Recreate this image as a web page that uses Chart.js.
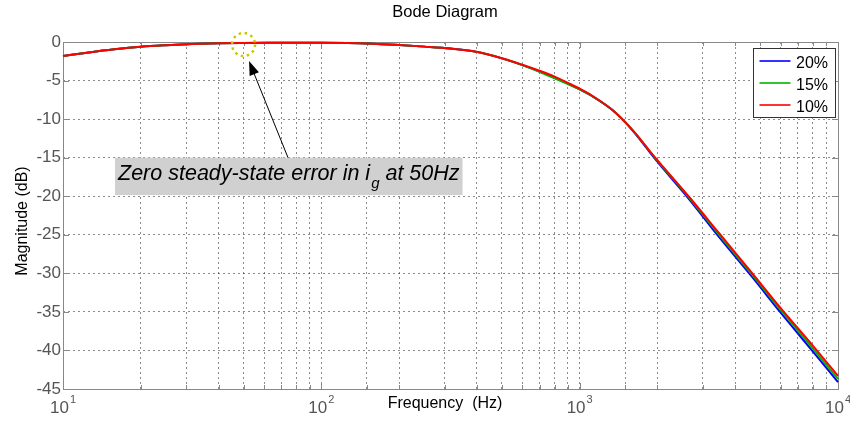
<!DOCTYPE html>
<html>
<head>
<meta charset="utf-8">
<title>Bode Diagram</title>
<script src="https://cdn.jsdelivr.net/npm/chart.js@4/dist/chart.umd.min.js"></script>
<style>
  html, body { margin: 0; padding: 0; background: #fff; }
  #wrap { width: 850px; height: 421px; }
</style>
</head>
<body>
<div id="wrap"><canvas id="chart"></canvas></div>
<script>
// Frequency points (Hz)
const freqs = [10, 12.6, 15.8, 20, 25, 31.6, 40, 50, 63, 80, 100, 126, 158, 200, 251, 316, 398, 500,
  600, 708, 800, 900, 1000, 1122, 1336, 1600, 1972, 2654, 3467, 4660, 6000, 8000, 10000];

// Magnitude (dB) for each case
const mag20 = [-1.82, -1.35, -0.95, -0.62, -0.42, -0.26, -0.16, -0.12, -0.1, -0.1, -0.1, -0.12, -0.22, -0.4, -0.6, -0.85, -1.28, -2.12,
  -3.0, -3.9, -4.65, -5.4, -6.15, -7.05, -8.8, -11.45, -15.3, -20.4, -25.3, -30.5, -35.1, -40.15, -44.1];
const mag15 = [-1.82, -1.35, -0.95, -0.62, -0.42, -0.26, -0.16, -0.12, -0.1, -0.1, -0.1, -0.12, -0.22, -0.4, -0.6, -0.85, -1.27, -2.12,
  -3.0, -3.95, -4.7, -5.45, -6.15, -7.05, -8.8, -11.4, -15.15, -20.2, -25.0, -30.2, -34.75, -39.75, -43.7];
const mag10 = [-1.82, -1.35, -0.95, -0.62, -0.42, -0.26, -0.16, -0.12, -0.1, -0.1, -0.1, -0.12, -0.22, -0.4, -0.6, -0.85, -1.26, -2.1,
  -2.95, -3.8, -4.5, -5.3, -6.05, -7.0, -8.8, -11.4, -15.1, -20.1, -24.8, -30.0, -34.5, -39.4, -43.3];

const seriesNames = ['20%', '15%', '10%'];
const seriesColors = ['#0000ff', '#00b400', '#ff0000'];
const seriesValues = [mag20, mag15, mag10];

const yTickValues = [0, -5, -10, -15, -20, -25, -30, -35, -40, -45];
const xDecades = [1, 2, 3, 4];

const FONT = '"Liberation Sans", Arial, sans-serif';
const TICK_GREY = '#555555';

// Bode plot decorations: box, titles, decade labels, legend, annotation
const bodePlugin = {
  id: 'bodeDecor',
  beforeDatasetsDraw(chart) {
    const { ctx, chartArea: a, scales: { x, y } } = chart;
    ctx.save();

    // annotation box (covers the grid)
    const bx0 = x.getPixelForValue(15.9), bx1 = x.getPixelForValue(352);
    const by0 = y.getPixelForValue(-15.0), by1 = y.getPixelForValue(-19.85);
    ctx.fillStyle = '#d0d0d0';
    ctx.fillRect(bx0, by0, bx1 - bx0, by1 - by0);

    // axes box
    ctx.strokeStyle = '#888';
    ctx.lineWidth = 1;
    ctx.strokeRect(Math.round(a.left) + 0.5, Math.round(a.top) + 0.5,
      Math.round(a.right - a.left), Math.round(a.bottom - a.top));

    // inward tick marks
    ctx.beginPath();
    yTickValues.forEach(v => {
      const py = Math.round(y.getPixelForValue(v)) + 0.5;
      ctx.moveTo(a.left, py); ctx.lineTo(a.left + 6, py);
      ctx.moveTo(a.right, py); ctx.lineTo(a.right - 6, py);
    });
    x.ticks.forEach(t => {
      const px = Math.round(x.getPixelForValue(t.value)) + 0.5;
      const major = Math.abs(Math.log10(t.value) % 1) < 1e-9;
      const len = major ? 6 : 4;
      ctx.moveTo(px, a.bottom); ctx.lineTo(px, a.bottom - len);
      ctx.moveTo(px, a.top); ctx.lineTo(px, a.top + len);
    });
    ctx.stroke();
    ctx.restore();
  },
  afterDraw(chart) {
    const { ctx, chartArea: a, scales: { x, y } } = chart;
    ctx.save();

    // annotation text with subscript
    const bx0 = x.getPixelForValue(15.9);
    ctx.fillStyle = '#000';
    ctx.textAlign = 'left';
    ctx.textBaseline = 'alphabetic';
    let tx = bx0 + 3;
    const base = 180;
    ctx.font = 'italic 21.5px ' + FONT;
    const t1 = 'Zero steady-state error in i';
    ctx.fillText(t1, tx, base);
    tx += ctx.measureText(t1).width + 1;
    ctx.font = 'italic 15px ' + FONT;
    ctx.fillText('g', tx, base + 8);
    tx += ctx.measureText('g').width;
    ctx.font = 'italic 21.5px ' + FONT;
    ctx.fillText(' at 50Hz', tx, base);

    // arrow
    const ax0 = x.getPixelForValue(74.3), ay0 = y.getPixelForValue(-15.0);
    const ax1 = x.getPixelForValue(52.5), ay1 = y.getPixelForValue(-2.47);
    const ang = Math.atan2(ay1 - ay0, ax1 - ax0);
    ctx.strokeStyle = '#000';
    ctx.lineWidth = 1;
    ctx.beginPath();
    ctx.moveTo(ax0, ay0);
    ctx.lineTo(ax1 - 10 * Math.cos(ang), ay1 - 10 * Math.sin(ang));
    ctx.stroke();
    ctx.beginPath();
    ctx.moveTo(ax1, ay1);
    ctx.lineTo(ax1 - 14 * Math.cos(ang) + 5 * Math.sin(ang), ay1 - 14 * Math.sin(ang) - 5 * Math.cos(ang));
    ctx.lineTo(ax1 - 14 * Math.cos(ang) - 5 * Math.sin(ang), ay1 - 14 * Math.sin(ang) + 5 * Math.cos(ang));
    ctx.closePath();
    ctx.fillStyle = '#000';
    ctx.fill();

    // dotted circle at 50 Hz
    ctx.strokeStyle = '#c8c800';
    ctx.lineWidth = 2.5;
    ctx.setLineDash([2.5, 3.6]);
    ctx.beginPath();
    ctx.arc(x.getPixelForValue(50), y.getPixelForValue(0) + 2.5, 11.5, 0, Math.PI * 2);
    ctx.stroke();
    ctx.setLineDash([]);

    // decade tick labels 10^n
    ctx.fillStyle = TICK_GREY;
    xDecades.forEach(n => {
      const px = x.getPixelForValue(Math.pow(10, n));
      ctx.font = '17px ' + FONT;
      const w1 = ctx.measureText('10').width;
      ctx.font = '11px ' + FONT;
      const w2 = ctx.measureText(String(n)).width;
      const left = px - (w1 + w2 + 1) / 2;
      ctx.font = '17px ' + FONT;
      ctx.fillText('10', left, 413);
      ctx.font = '11px ' + FONT;
      ctx.fillText(String(n), left + w1 + 1, 403);
    });

    // titles
    ctx.fillStyle = '#000';
    ctx.textAlign = 'center';
    ctx.font = '16.5px ' + FONT;
    ctx.fillText('Bode Diagram', 445, 17);
    ctx.font = '16px ' + FONT;
    ctx.fillText('Frequency  (Hz)', 445, 408);
    ctx.save();
    ctx.translate(27, 221);
    ctx.rotate(-Math.PI / 2);
    ctx.fillText('Magnitude (dB)', 0, 0);
    ctx.restore();

    // legend
    const lx1 = a.right - 2.5, lx0 = lx1 - 82, ly0 = a.top + 6.5, ly1 = ly0 + 69;
    ctx.fillStyle = '#fff';
    ctx.fillRect(lx0, ly0, lx1 - lx0, ly1 - ly0);
    ctx.strokeStyle = '#333';
    ctx.lineWidth = 1;
    ctx.strokeRect(lx0, ly0, lx1 - lx0, ly1 - ly0);
    ctx.textAlign = 'left';
    ctx.font = '16px ' + FONT;
    seriesNames.forEach((name, i) => {
      const ly = Math.round(ly0 + 12 + i * 22.2);
      ctx.strokeStyle = seriesColors[i];
      ctx.lineWidth = 1.6;
      ctx.beginPath();
      ctx.moveTo(lx0 + 6, ly);
      ctx.lineTo(lx0 + 37, ly);
      ctx.stroke();
      ctx.fillStyle = '#000';
      ctx.fillText(name, lx0 + 42.5, ly + 7);
    });

    ctx.restore();
  }
};

// 10% drawn on top, 20% underneath
const datasets = seriesNames.map((name, i) => ({
  label: name,
  data: freqs.map((f, k) => ({ x: f, y: seriesValues[i][k] })),
  borderColor: seriesColors[i],
  backgroundColor: seriesColors[i],
  borderWidth: 2,
  pointRadius: 0,
  fill: false,
  clip: 3,
  order: seriesNames.length - i,
  cubicInterpolationMode: 'monotone',
}));

const gridStyle = { color: 'rgba(0,0,0,0.45)', lineWidth: 1, drawTicks: false };

new Chart(document.getElementById('chart').getContext('2d'), {
  type: 'line',
  data: { datasets: datasets },
  plugins: [bodePlugin],
  options: {
    responsive: true,
    maintainAspectRatio: false,
    animation: false,
    devicePixelRatio: 1,
    layout: { padding: { top: 42, right: 12, bottom: 0, left: 0 } },
    plugins: {
      legend: { display: false },
      title: { display: false },
      tooltip: { enabled: false },
    },
    scales: {
      x: {
        type: 'logarithmic',
        min: 10,
        max: 10000,
        grid: gridStyle,
        border: { display: false, dash: [2, 3] },
        ticks: { display: false },
        afterFit: s => { s.height = 32; },
      },
      y: {
        type: 'linear',
        min: -45,
        max: 0,
        grid: gridStyle,
        border: { display: false, dash: [2, 3] },
        afterBuildTicks: s => { s.ticks = yTickValues.map(v => ({ value: v })); },
        ticks: {
          color: TICK_GREY,
          padding: 2,
          font: { family: FONT, size: 17 },
        },
        afterFit: s => { s.width = 63; },
      },
    },
  },
});
</script>
</body>
</html>
